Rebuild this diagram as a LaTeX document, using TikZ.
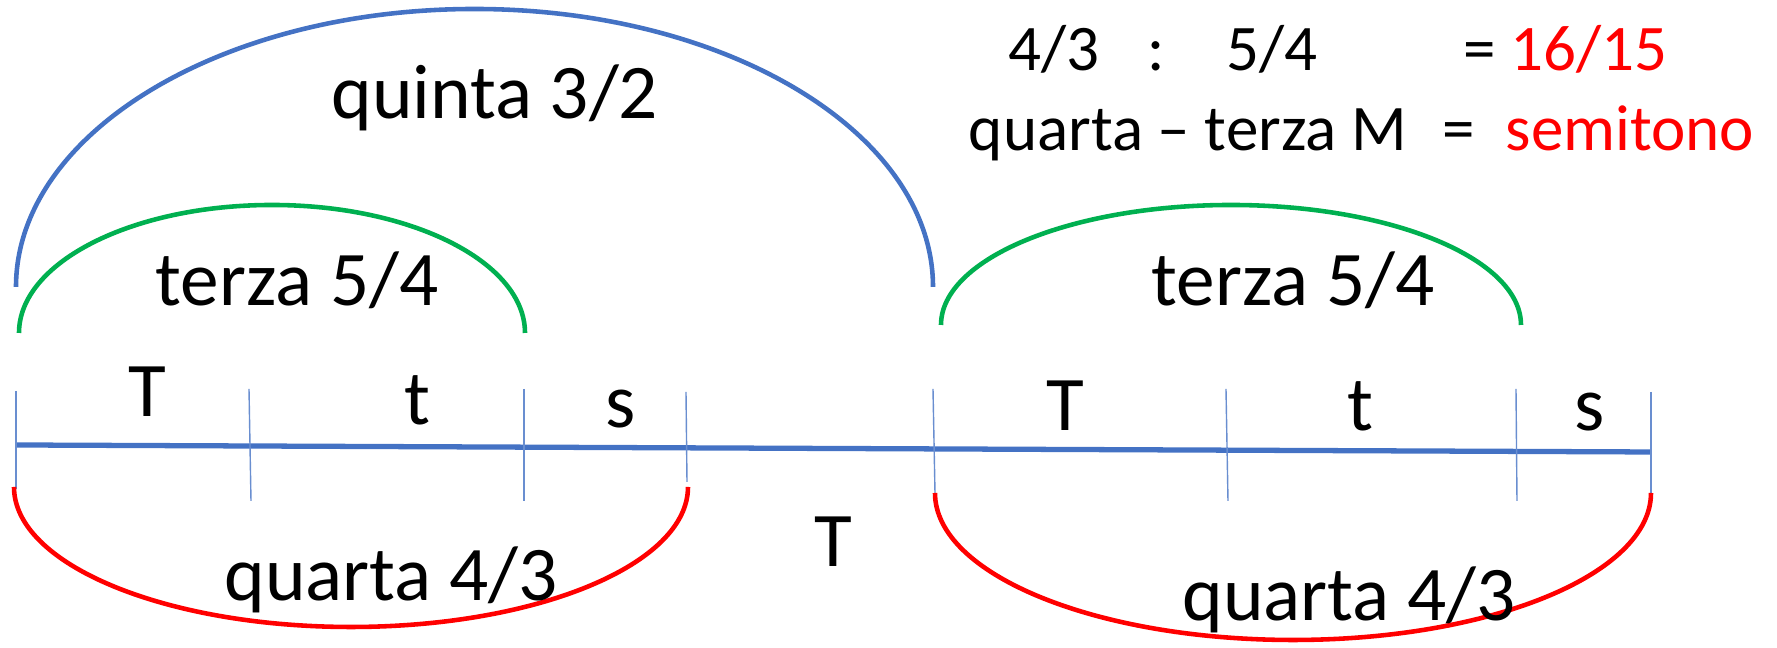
\documentclass[tikz,border=0pt]{standalone}
\usepackage{fontspec}
\setmainfont{Carlito}
\definecolor{azzurro}{HTML}{4472C4}
\definecolor{verde}{HTML}{00B050}
\definecolor{rosso}{HTML}{FF0000}
\begin{document}
\begin{tikzpicture}[
    lab/.style={anchor=base, inner sep=0pt, font=\fontsize{22}{26}\selectfont},
    nota/.style={anchor=base, inner sep=0pt, font=\fontsize{18.5}{22}\selectfont},
    tacca/.style={azzurro!80, line width=0.4pt},
    arco/.style={line width=1.3pt}]

    \useasboundingbox (0,0) rectangle (17.77,6.48);

    % linea dei toni
    \coordinate (inizio) at (0.16,2.03);
    \coordinate (fine) at (16.51,1.96);
    \draw[azzurro, line width=1.5pt] (inizio) -- (fine);

    % tacche
    \draw[tacca] (0.16,2.57) -- (0.16,1.59);
    \draw[tacca] (2.49,2.59) -- (2.51,1.47);
    \draw[tacca] (5.24,2.59) -- (5.24,1.47);
    \draw[tacca] (6.86,2.56) -- (6.87,1.66);
    \draw[tacca] (9.33,2.59) -- (9.35,1.55);
    \draw[tacca] (12.26,2.59) -- (12.28,1.47);
    \draw[tacca] (15.16,2.59) -- (15.17,1.47);
    \draw[tacca] (16.51,2.56) -- (16.51,1.55);

    % quinta
    \draw[arco, azzurro] (0.16,3.61) arc[start angle=180, end angle=0, x radius=4.585, y radius=2.78];
    \node[lab] (quinta) at (4.95,5.29) {quinta 3/2};

    % terze
    \draw[arco, verde] (0.19,3.15) arc[start angle=180, end angle=0, x radius=2.53, y radius=1.28];
    \node[lab] (terzaA) at (2.97,3.42) {terza 5/4};
    \draw[arco, verde] (9.41,3.23) arc[start angle=180, end angle=0, x radius=2.90, y radius=1.20];
    \node[lab] (terzaB) at (12.93,3.42) {terza 5/4};

    % quarte
    \draw[arco, rosso] (0.14,1.61) arc[start angle=180, end angle=360, x radius=3.37, y radius=1.40];
    \node[lab] (quartaA) at (3.91,0.47) {quarta 4/3};
    \draw[arco, rosso] (9.35,1.55) arc[start angle=180, end angle=360, x radius=3.58, y radius=1.47];
    \node[lab] (quartaB) at (13.49,0.27) {quarta 4/3};

    % intervalli
    \node[lab] (tonoA) at (1.47,2.31) {T};
    \node[lab] (tonominA) at (4.17,2.23) {t};
    \node[lab] (semiA) at (6.21,2.20) {s};
    \node[lab] (tonoB) at (10.65,2.17) {T};
    \node[lab] (tonominB) at (13.60,2.17) {t};
    \node[lab] (semiB) at (15.90,2.17) {s};
    \node[lab] (tonoC) at (8.33,0.81) {T};

    % rapporto
    \node[nota] (rapA) at (10.54,5.77) {4/3};
    \node[nota] (diviso) at (11.56,5.77) {:};
    \node[nota] (rapB) at (12.72,5.77) {5/4};
    \node[nota] (ugualeA) at (14.80,5.77) {=};
    \node[nota, text=rosso] (risA) at (15.89,5.77) {16/15};
    \node[nota] (diff) at (11.88,4.97) {quarta -- terza M};
    \node[nota] (ugualeB) at (14.59,4.97) {=};
    \node[nota, text=rosso] (risB) at (16.30,4.97) {semitono};

\end{tikzpicture}
\end{document}
